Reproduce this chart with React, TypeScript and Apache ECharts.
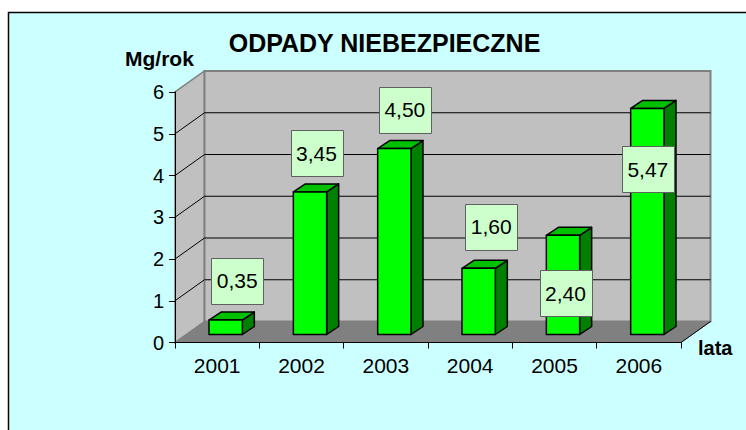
import React, { useEffect, useRef } from "react";
import * as echarts from "echarts";

const YEARS = ["2001", "2002", "2003", "2004", "2005", "2006"];
const VALUES = [0.35, 3.45, 4.5, 1.6, 2.4, 5.47];
const Y_TICKS = [0, 1, 2, 3, 4, 5, 6];
const TITLE = "ODPADY NIEBEZPIECZNE";
const Y_NAME = "Mg/rok";
const X_NAME = "lata";

// layout config (label box centre offsets relative to bar top, px)
const LABEL_OFFSETS = [
  [20, -47],
  [15, -45],
  [19, -45],
  [21, -49],
  [11, 51],
  [9, 55],
];

const FONT = "'Liberation Sans', Arial, sans-serif";
const DX = 29.5;
const DY = -21;
const BDX = 12;
const BDY = -8;
const BAR_SCALE = 0.99;

export default function App() {
  const ref = useRef<HTMLDivElement>(null);

  useEffect(() => {
    const chart = echarts.init(ref.current!, null, { renderer: "svg" });

    const wallsItem = (_params: any, api: any) => {
      const bw = api.size([1, 0])[0];
      const p0 = api.coord([0, 0]);
      const pN = api.coord([YEARS.length - 1, 0]);
      const xL = p0[0] - bw / 2;
      const xR = pN[0] + bw / 2;
      const y0 = p0[1];
      const yTop = api.coord([0, Y_TICKS[Y_TICKS.length - 1]])[1];
      const children: any[] = [];
      children.push({
        type: "polygon",
        shape: { points: [[xL, y0], [xL, yTop], [xL + DX, yTop + DY], [xL + DX, y0 + DY]] },
        style: { fill: "#C0C0C0", stroke: "#808080", lineWidth: 1.5 },
      });
      children.push({
        type: "rect",
        shape: { x: xL + DX, y: yTop + DY, width: xR - xL, height: y0 - yTop },
        style: { fill: "#C0C0C0", stroke: "#808080", lineWidth: 2 },
      });
      children.push({
        type: "polygon",
        shape: { points: [[xL, y0], [xL + DX, y0 + DY], [xR + DX, y0 + DY], [xR, y0]] },
        style: { fill: "#808080", stroke: "#808080", lineWidth: 1 },
      });
      Y_TICKS.slice(1, -1).forEach((v) => {
        const y = api.coord([0, v])[1];
        children.push({
          type: "line",
          shape: { x1: xL + DX, y1: y + DY, x2: xR + DX, y2: y + DY },
          style: { stroke: "#000", lineWidth: 1 },
        });
        children.push({
          type: "line",
          shape: { x1: xL, y1: y, x2: xL + DX, y2: y + DY },
          style: { stroke: "#000", lineWidth: 1 },
        });
      });
      children.push({
        type: "line",
        shape: { x1: xR, y1: y0, x2: xR + DX, y2: y0 + DY },
        style: { stroke: "#000", lineWidth: 1 },
      });
      return { type: "group", children };
    };

    const barItem = (_params: any, api: any) => {
      const i = api.value(0);
      const v = api.value(1);
      const bw = api.size([1, 0])[0];
      const base = api.coord([i, 0]);
      const top = api.coord([i, v]);
      const w = bw * 0.395;
      const cx = base[0] + 8.5;
      const xl = cx - w / 2;
      const xr = cx + w / 2;
      const yb = base[1] - 8;
      const yt = yb - (base[1] - top[1]) * BAR_SCALE;
      const st = { stroke: "#000", lineWidth: 1.5, lineJoin: "round" };
      return {
        type: "group",
        children: [
          {
            type: "polygon",
            shape: { points: [[xr, yt], [xr + BDX, yt + BDY], [xr + BDX, yb + BDY], [xr, yb]] },
            style: { fill: "#008000", ...st },
          },
          {
            type: "polygon",
            shape: { points: [[xl, yt], [xl + BDX, yt + BDY], [xr + BDX, yt + BDY], [xr, yt]] },
            style: { fill: "#00C000", ...st },
          },
          {
            type: "rect",
            shape: { x: xl, y: yt, width: w, height: yb - yt },
            style: { fill: "#00FF00", ...st },
          },
        ],
      };
    };

    const labelItem = (params: any, api: any) => {
      const i = api.value(0);
      const v = api.value(1);
      const top = api.coord([i, v]);
      const off = LABEL_OFFSETS[params.dataIndex];
      const cx = top[0] + off[0];
      const cy = top[1] + off[1];
      return {
        type: "group",
        children: [
          {
            type: "rect",
            shape: { x: Math.round(cx - 26) + 0.5, y: Math.round(cy - 23) + 0.5, width: 52, height: 46 },
            style: { fill: "#CCFFCC", stroke: "#606060", lineWidth: 1 },
          },
          {
            type: "text",
            x: cx,
            y: cy,
            style: {
              text: v.toFixed(2).replace(".", ","),
              fill: "#000",
              font: `21px ${FONT}`,
              align: "center",
              verticalAlign: "middle",
            },
          },
        ],
      };
    };

    chart.setOption({
      animation: false,
      backgroundColor: "#ffffff",
      grid: { left: 175, top: 92, right: 65, bottom: 87.5, containLabel: false },
      xAxis: {
        type: "category",
        data: YEARS,
        z: 10,
        axisLine: { lineStyle: { color: "#000", width: 1 } },
        axisTick: { show: true, length: 6, lineStyle: { color: "#000" } },
        axisLabel: { fontSize: 21, fontFamily: FONT, color: "#000", margin: 12 },
        splitLine: { show: false },
      },
      yAxis: {
        type: "value",
        min: 0,
        max: 6,
        interval: 1,
        z: 10,
        axisLine: { show: true, lineStyle: { color: "#000", width: 1 } },
        axisTick: { show: true, length: 6, lineStyle: { color: "#000" } },
        axisLabel: { fontSize: 20, fontFamily: FONT, color: "#000", margin: 11 },
        splitLine: { show: false },
      },
      graphic: [
        {
          type: "rect",
          z: -10,
          silent: true,
          shape: { x: 8.5, y: 12.5, width: 800, height: 500 },
          style: { fill: "#CCFFFF", stroke: "#000", lineWidth: 1.5 },
        },
        {
          type: "text",
          z: 20,
          x: 384.5,
          y: 42.5,
          style: { text: TITLE, fill: "#000", font: `bold 25px ${FONT}`, align: "center", verticalAlign: "middle" },
        },
        {
          type: "text",
          z: 20,
          x: 125,
          y: 58,
          style: { text: Y_NAME, fill: "#000", font: `bold 21px ${FONT}`, align: "left", verticalAlign: "middle" },
        },
        {
          type: "text",
          z: 20,
          x: 698,
          y: 348,
          style: { text: X_NAME, fill: "#000", font: `bold 20px ${FONT}`, align: "left", verticalAlign: "middle" },
        },
      ],
      series: [
        { type: "custom", z: 1, renderItem: wallsItem, data: [[0, 0]], silent: true },
        { type: "custom", z: 3, renderItem: barItem, data: VALUES.map((v, i) => [i, v]) },
        { type: "custom", z: 5, renderItem: labelItem, data: VALUES.map((v, i) => [i, v]) },
      ],
    });

    return () => chart.dispose();
  }, []);

  return <div ref={ref} style={{ position: "absolute", left: 0, top: 0, width: 746, height: 430 }} />;
}
